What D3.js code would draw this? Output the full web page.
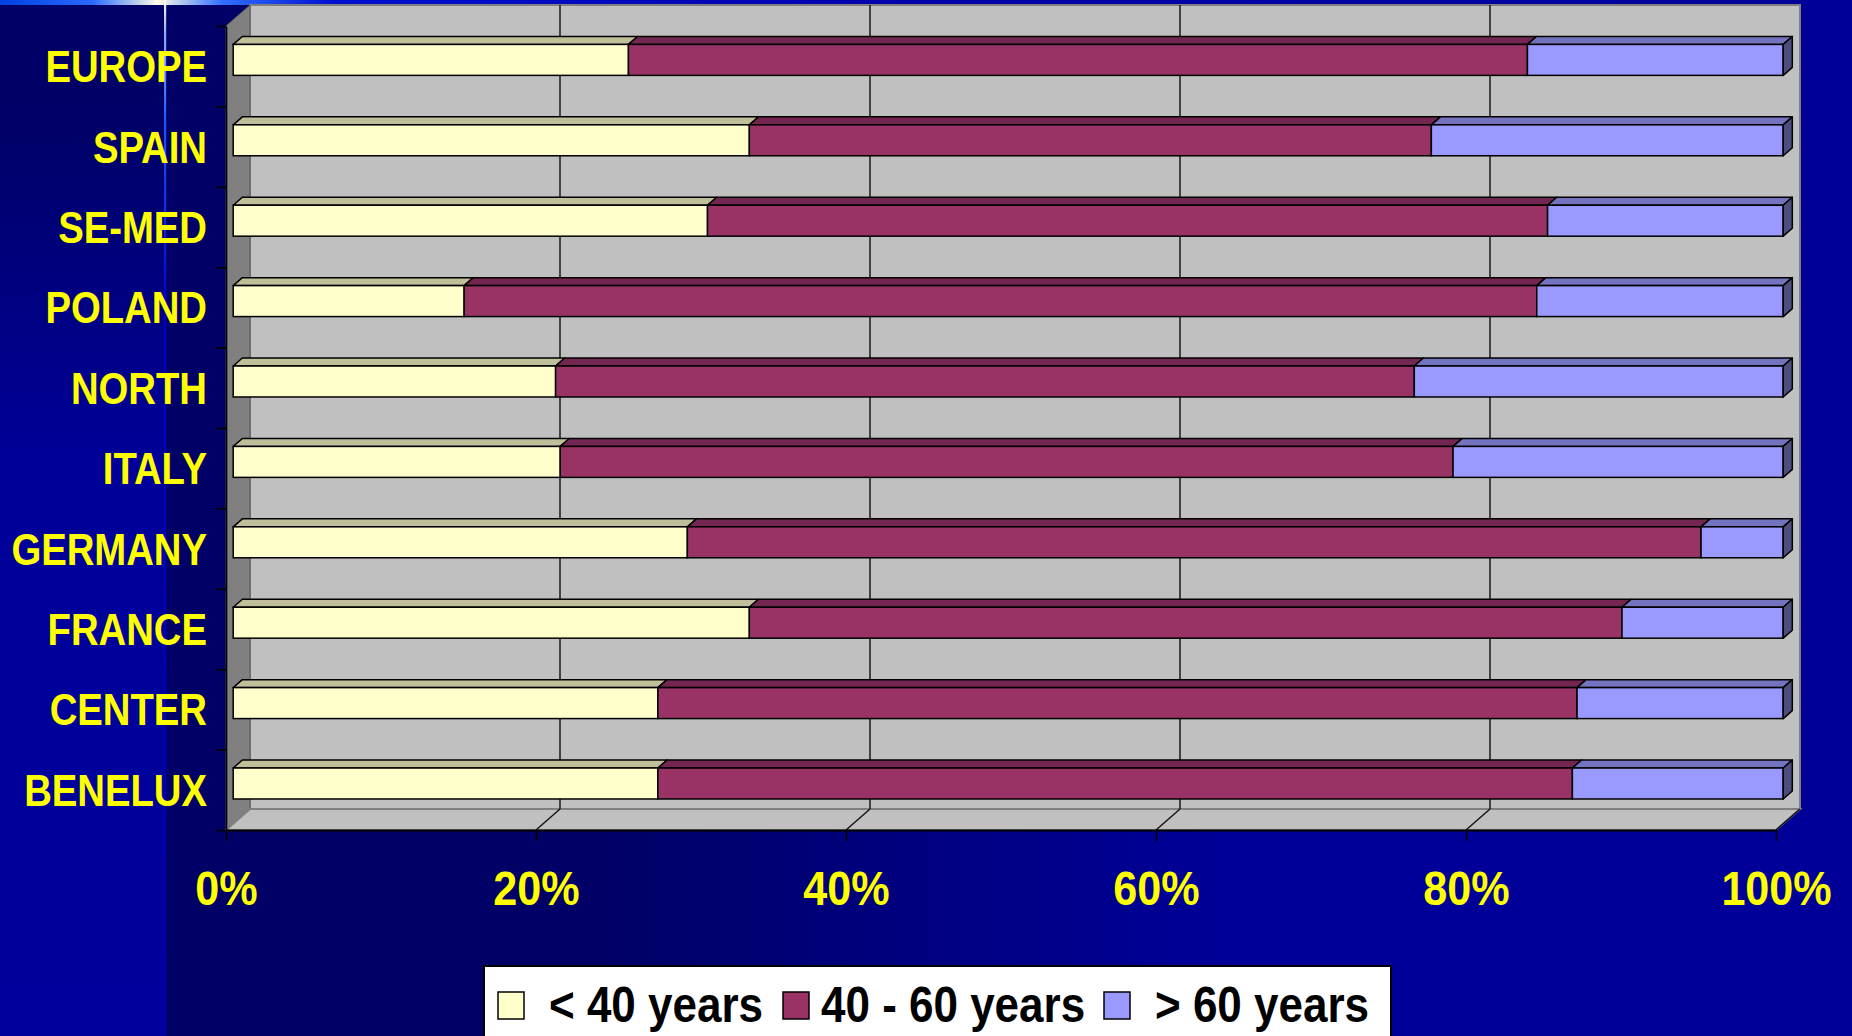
<!DOCTYPE html>
<html><head><meta charset="utf-8">
<script src="https://cdn.jsdelivr.net/npm/d3@7"></script>
<style>html,body{margin:0;padding:0;background:#000066;overflow:hidden}</style>
</head><body>
<svg id="chart" width="1852" height="1036" xmlns="http://www.w3.org/2000/svg"></svg>
<script>
// ---------- DATA ----------
const categories = ["EUROPE","SPAIN","SE-MED","POLAND","NORTH","ITALY","GERMANY","FRANCE","CENTER","BENELUX"];
const under40   = [25.5, 33.3, 30.6, 14.9, 20.8, 21.1, 29.3, 33.3, 27.4, 27.4];
const from40to60= [58.0, 44.0, 54.2, 69.2, 55.4, 57.6, 65.4, 56.3, 59.3, 59.0];
const over60    = [16.5, 22.7, 15.2, 15.9, 23.8, 21.3,  5.3, 10.4, 13.3, 13.6];
const seriesNames = ["< 40 years", "40 - 60 years", "> 60 years"];
const xTickValues = [0, 0.2, 0.4, 0.6, 0.8, 1.0];

// ---------- STYLE ----------
const frontColors = ["#FFFFCC", "#993366", "#9999FF"];
const topColors   = ["#BFBF99", "#732650", "#7373BF"];
const sideColors  = ["#80806A", "#4D1933", "#4D4D80"];
const FONT = "'Liberation Sans', Arial, Helvetica, sans-serif";

const W = 1852, H = 1036;
const svg = d3.select("#chart");
const defs = svg.append("defs");

function lin(id, x1, y1, x2, y2, stops) {
  const g = defs.append("linearGradient").attr("id", id)
    .attr("x1", x1).attr("y1", y1).attr("x2", x2).attr("y2", y2);
  stops.forEach(s => g.append("stop").attr("offset", s[0]).attr("stop-color", s[1]));
}
lin("bgMain", 0, 0, 1, 0, [[0, "#000066"], [0.32, "#000066"], [0.67, "#000099"], [1, "#000099"]]);
lin("bgLeft", 0, 0, 0, 1, [[0, "#000066"], [0.12, "#000068"], [0.45, "#000099"], [1, "#00009C"]]);
lin("topStrip", 0, 0, 1, 0, [[0, "#0040E0"], [0.05, "#2A6AFF"], [0.085, "#FFFFE8"], [0.12, "#3070FF"], [0.18, "#0010D0"], [0.5, "#0000AA"], [1, "#000099"]]);
lin("vLine", 0, 0, 0, 1, [[0, "#FFFFF0"], [0.03, "#8FB0FF"], [0.12, "#1A55FF"], [0.3, "#0000C8"], [1, "#0000A8"]]);

// background
svg.append("rect").attr("x", 0).attr("y", 0).attr("width", W).attr("height", H).attr("fill", "url(#bgMain)");
svg.append("rect").attr("x", 0).attr("y", 0).attr("width", 165).attr("height", H).attr("fill", "url(#bgLeft)");
svg.append("rect").attr("x", 0).attr("y", 0).attr("width", W).attr("height", 5).attr("fill", "url(#topStrip)");
svg.append("rect").attr("x", 164).attr("y", 0).attr("width", 2.2).attr("height", H).attr("fill", "url(#vLine)");

// ---------- SCALES ----------
const x = d3.scaleLinear().domain([0, 1]).range([226, 1776]);
const y = d3.scaleBand().domain(categories).range([26, 830]).paddingInner(0).paddingOuter(0);
const yTicksScale = d3.scaleLinear().domain([0, categories.length]).range([26, 830]);
const DX = 24, DY = -21;        // depth of the 3D box
const tF = 0.3, tB = 0.68;      // bar front/back depth fraction
const barH = y.bandwidth() * 0.385;

const [x0, x1] = x.range();
const [y0, y1] = y.range();

// ---------- WALLS ----------
const walls = svg.append("g");
walls.append("rect").attr("x", x0 + DX).attr("y", y0 + DY).attr("width", x1 - x0).attr("height", y1 - y0)
  .attr("fill", "#C0C0C0").attr("stroke", "#808080").attr("stroke-width", 2);
walls.append("polygon")
  .attr("points", [[x0, y0], [x0 + DX, y0 + DY], [x0 + DX, y1 + DY], [x0, y1]].map(p => p.join(",")).join(" "))
  .attr("fill", "#808080").attr("stroke", "#5a5a5a").attr("stroke-width", 1);
walls.append("polygon")
  .attr("points", [[x0, y1], [x0 + DX, y1 + DY], [x1 + DX, y1 + DY], [x1, y1]].map(p => p.join(",")).join(" "))
  .attr("fill", "#C0C0C0").attr("stroke", "#808080").attr("stroke-width", 2);
walls.selectAll("line.grid").data(xTickValues.slice(1, -1)).enter().append("line")
  .attr("x1", d => x(d) + DX).attr("x2", d => x(d) + DX)
  .attr("y1", y0 + DY).attr("y2", y1 + DY)
  .attr("stroke", "#222").attr("stroke-width", 1.6);
walls.selectAll("line.fgrid").data(xTickValues.slice(1)).enter().append("line")
  .attr("x1", d => x(d)).attr("x2", d => x(d) + DX)
  .attr("y1", y1).attr("y2", y1 + DY)
  .attr("stroke", "#111").attr("stroke-width", 1.4);

// ---------- BARS ----------
const rows = categories.map((c, i) => ({ cat: c, vals: [under40[i], from40to60[i], over60[i]] }));
const stack = d3.stack().keys([0, 1, 2]).value((d, k) => d.vals[k]).offset(d3.stackOffsetExpand);
const stacked = stack(rows);

const fx = DX * tF, fy = DY * tF;
const ddx = DX * (tB - tF), ddy = DY * (tB - tF);
const barsG = svg.append("g");
rows.forEach((r, i) => {
  const g = barsG.append("g");
  const top = y(r.cat) + y.bandwidth() / 2 - barH / 2 + fy;
  stacked.forEach((s, k) => {
    const a = x(s[i][0]) + fx, b = x(s[i][1]) + fx;
    g.append("polygon")
      .attr("points", [[a, top], [b, top], [b + ddx, top + ddy], [a + ddx, top + ddy]].map(p => p.join(",")).join(" "))
      .attr("fill", topColors[k]).attr("stroke", "#000").attr("stroke-width", 1.5).attr("stroke-linejoin", "round");
    g.append("rect").attr("x", a).attr("y", top).attr("width", b - a).attr("height", barH)
      .attr("fill", frontColors[k]).attr("stroke", "#000").attr("stroke-width", 1.5);
    if (k === stacked.length - 1) {
      g.append("polygon")
        .attr("points", [[b, top], [b + ddx, top + ddy], [b + ddx, top + barH + ddy], [b, top + barH]].map(p => p.join(",")).join(" "))
        .attr("fill", sideColors[k]).attr("stroke", "#000").attr("stroke-width", 1.5).attr("stroke-linejoin", "round");
    }
  });
});

// ---------- AXES ----------
const yAxis = d3.axisLeft(yTicksScale).ticks(categories.length).tickSize(10).tickSizeOuter(0).tickFormat("");
const yAxisG = svg.append("g").attr("transform", `translate(${x0},0)`).call(yAxis);
yAxisG.select(".domain").attr("stroke", "#000").attr("stroke-width", 1.6);
yAxisG.selectAll(".tick line").attr("stroke", "#000").attr("stroke-width", 1.6);

svg.append("g").selectAll("text").data(categories).enter().append("text")
  .attr("transform", d => `translate(207,${y(d) + y.bandwidth() / 2 + 16}) scale(0.87,1)`)
  .attr("text-anchor", "end")
  .attr("font-family", FONT).attr("font-weight", "bold").attr("font-size", 44)
  .attr("fill", "#FFFF00").text(d => d);

const xAxis = d3.axisBottom(x).tickValues(xTickValues).tickSize(11).tickSizeOuter(0).tickFormat(d3.format(".0%"));
const xAxisG = svg.append("g").attr("transform", `translate(0,${y1})`).call(xAxis);
xAxisG.select(".domain").attr("stroke", "#000").attr("stroke-width", 1.8);
xAxisG.selectAll(".tick line").attr("stroke", "#000").attr("stroke-width", 1.6);
xAxisG.selectAll(".tick text")
  .attr("y", null).attr("dy", null)
  .attr("transform", "translate(0,75) scale(0.88,1)")
  .attr("font-family", FONT).attr("font-weight", "bold").attr("font-size", 49)
  .attr("fill", "#FFFF00");
xAxisG.attr("font-family", null).attr("font-size", null);

// ---------- LEGEND ----------
const legend = svg.append("g");
legend.append("rect").attr("x", 484).attr("y", 966).attr("width", 907).attr("height", 90)
  .attr("fill", "#FFFFFF").attr("stroke", "#000").attr("stroke-width", 2);
const swatchX = [498, 783, 1104];
const textX = [549, 821, 1155];
seriesNames.forEach((name, k) => {
  legend.append("rect").attr("x", swatchX[k]).attr("y", 992).attr("width", 26).attr("height", 27)
    .attr("fill", frontColors[k]).attr("stroke", "#000").attr("stroke-width", 1.5);
  legend.append("text")
    .attr("transform", `translate(${textX[k]},1022) scale(0.88,1)`)
    .attr("font-family", FONT).attr("font-weight", "bold").attr("font-size", 50)
    .attr("fill", "#000").text(name);
});
</script>
</body></html>
